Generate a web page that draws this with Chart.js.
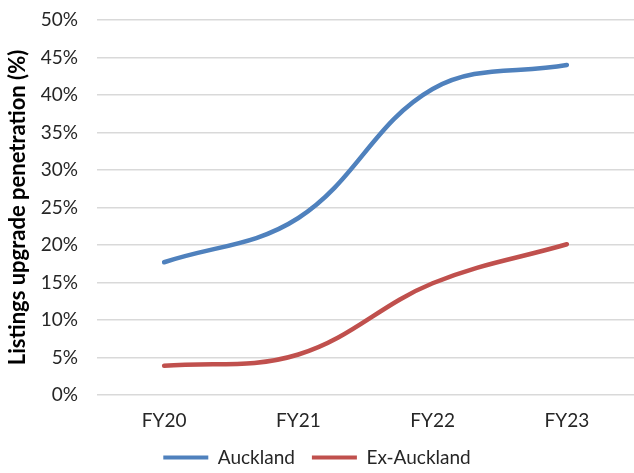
<!DOCTYPE html>
<html>
<head>
<meta charset="utf-8">
<script src="https://cdn.jsdelivr.net/npm/chart.js@4/dist/chart.umd.min.js"></script>
<style>
  html, body { margin: 0; padding: 0; background: #ffffff; }
  #wrap { width: 634px; height: 473px; position: relative; }
</style>
</head>
<body>
<div id="wrap"><canvas id="chart"></canvas></div>
<script>
// Fiscal years on the category axis
const categories = ['FY20', 'FY21', 'FY22', 'FY23'];
// Listings upgrade penetration, percent
const aucklandValues = [17.7, 23.6, 40.8, 44.0];
const exAucklandValues = [3.9, 5.4, 14.9, 20.1];
// Percent ticks on the value axis
const yTickValues = [0, 5, 10, 15, 20, 25, 30, 35, 40, 45, 50];

const FONT = 'Lato, "Open Sans", sans-serif';
const TEXT = '#262626';

new Chart(document.getElementById('chart'), {
  type: 'line',
  data: {
    labels: categories,
    datasets: [
      {
        label: 'Auckland',
        data: aucklandValues,
        borderColor: '#4F81BD',
        backgroundColor: '#4F81BD',
        borderWidth: 4.5,
        borderCapStyle: 'round',
        pointRadius: 0,
        tension: 0.38,
        fill: false
      },
      {
        label: 'Ex-Auckland',
        data: exAucklandValues,
        borderColor: '#C0504D',
        backgroundColor: '#C0504D',
        borderWidth: 4.5,
        borderCapStyle: 'round',
        pointRadius: 0,
        tension: 0.38,
        fill: false
      }
    ]
  },
  options: {
    responsive: true,
    maintainAspectRatio: false,
    animation: false,
    layout: { padding: { top: 20, right: 0, bottom: -4, left: 0 } },
    plugins: {
      tooltip: { enabled: false },
      legend: {
        position: 'bottom',
        labels: {
          font: { family: FONT, size: 19 },
          color: TEXT,
          boxWidth: 45,
          boxHeight: 4,
          padding: 17,
          generateLabels(chart) {
            return chart.data.datasets.map((ds, i) => ({
              text: ds.label,
              fillStyle: ds.borderColor,
              strokeStyle: ds.borderColor,
              lineWidth: 0,
              hidden: false,
              datasetIndex: i,
              fontColor: TEXT
            }));
          }
        }
      }
    },
    scales: {
      x: {
        offset: true,
        grid: { display: false, drawTicks: false },
        border: { display: false },
        ticks: { font: { family: FONT, size: 19 }, color: TEXT, padding: 14 },
        afterFit(scale) { scale.height = 36; }
      },
      y: {
        min: 0,
        max: 50,
        afterBuildTicks(scale) { scale.ticks = yTickValues.map(v => ({ value: v })); },
        grid: {
          color: '#D9D9D9',
          lineWidth: 1.5,
          drawTicks: true,
          tickLength: 17,
          tickColor: 'rgba(0,0,0,0)'
        },
        border: { display: false },
        ticks: {
          font: { family: FONT, size: 19 },
          color: TEXT,
          padding: 2,
          callback: v => v + '%'
        },
        title: {
          display: true,
          text: 'Listings upgrade penetration (%)',
          font: { family: FONT, size: 22, weight: 'bold' },
          color: '#000000',
          padding: { top: 5, bottom: 6 }
        },
        afterFit(scale) { scale.width = 97; }
      }
    }
  }
});
</script>
</body>
</html>
